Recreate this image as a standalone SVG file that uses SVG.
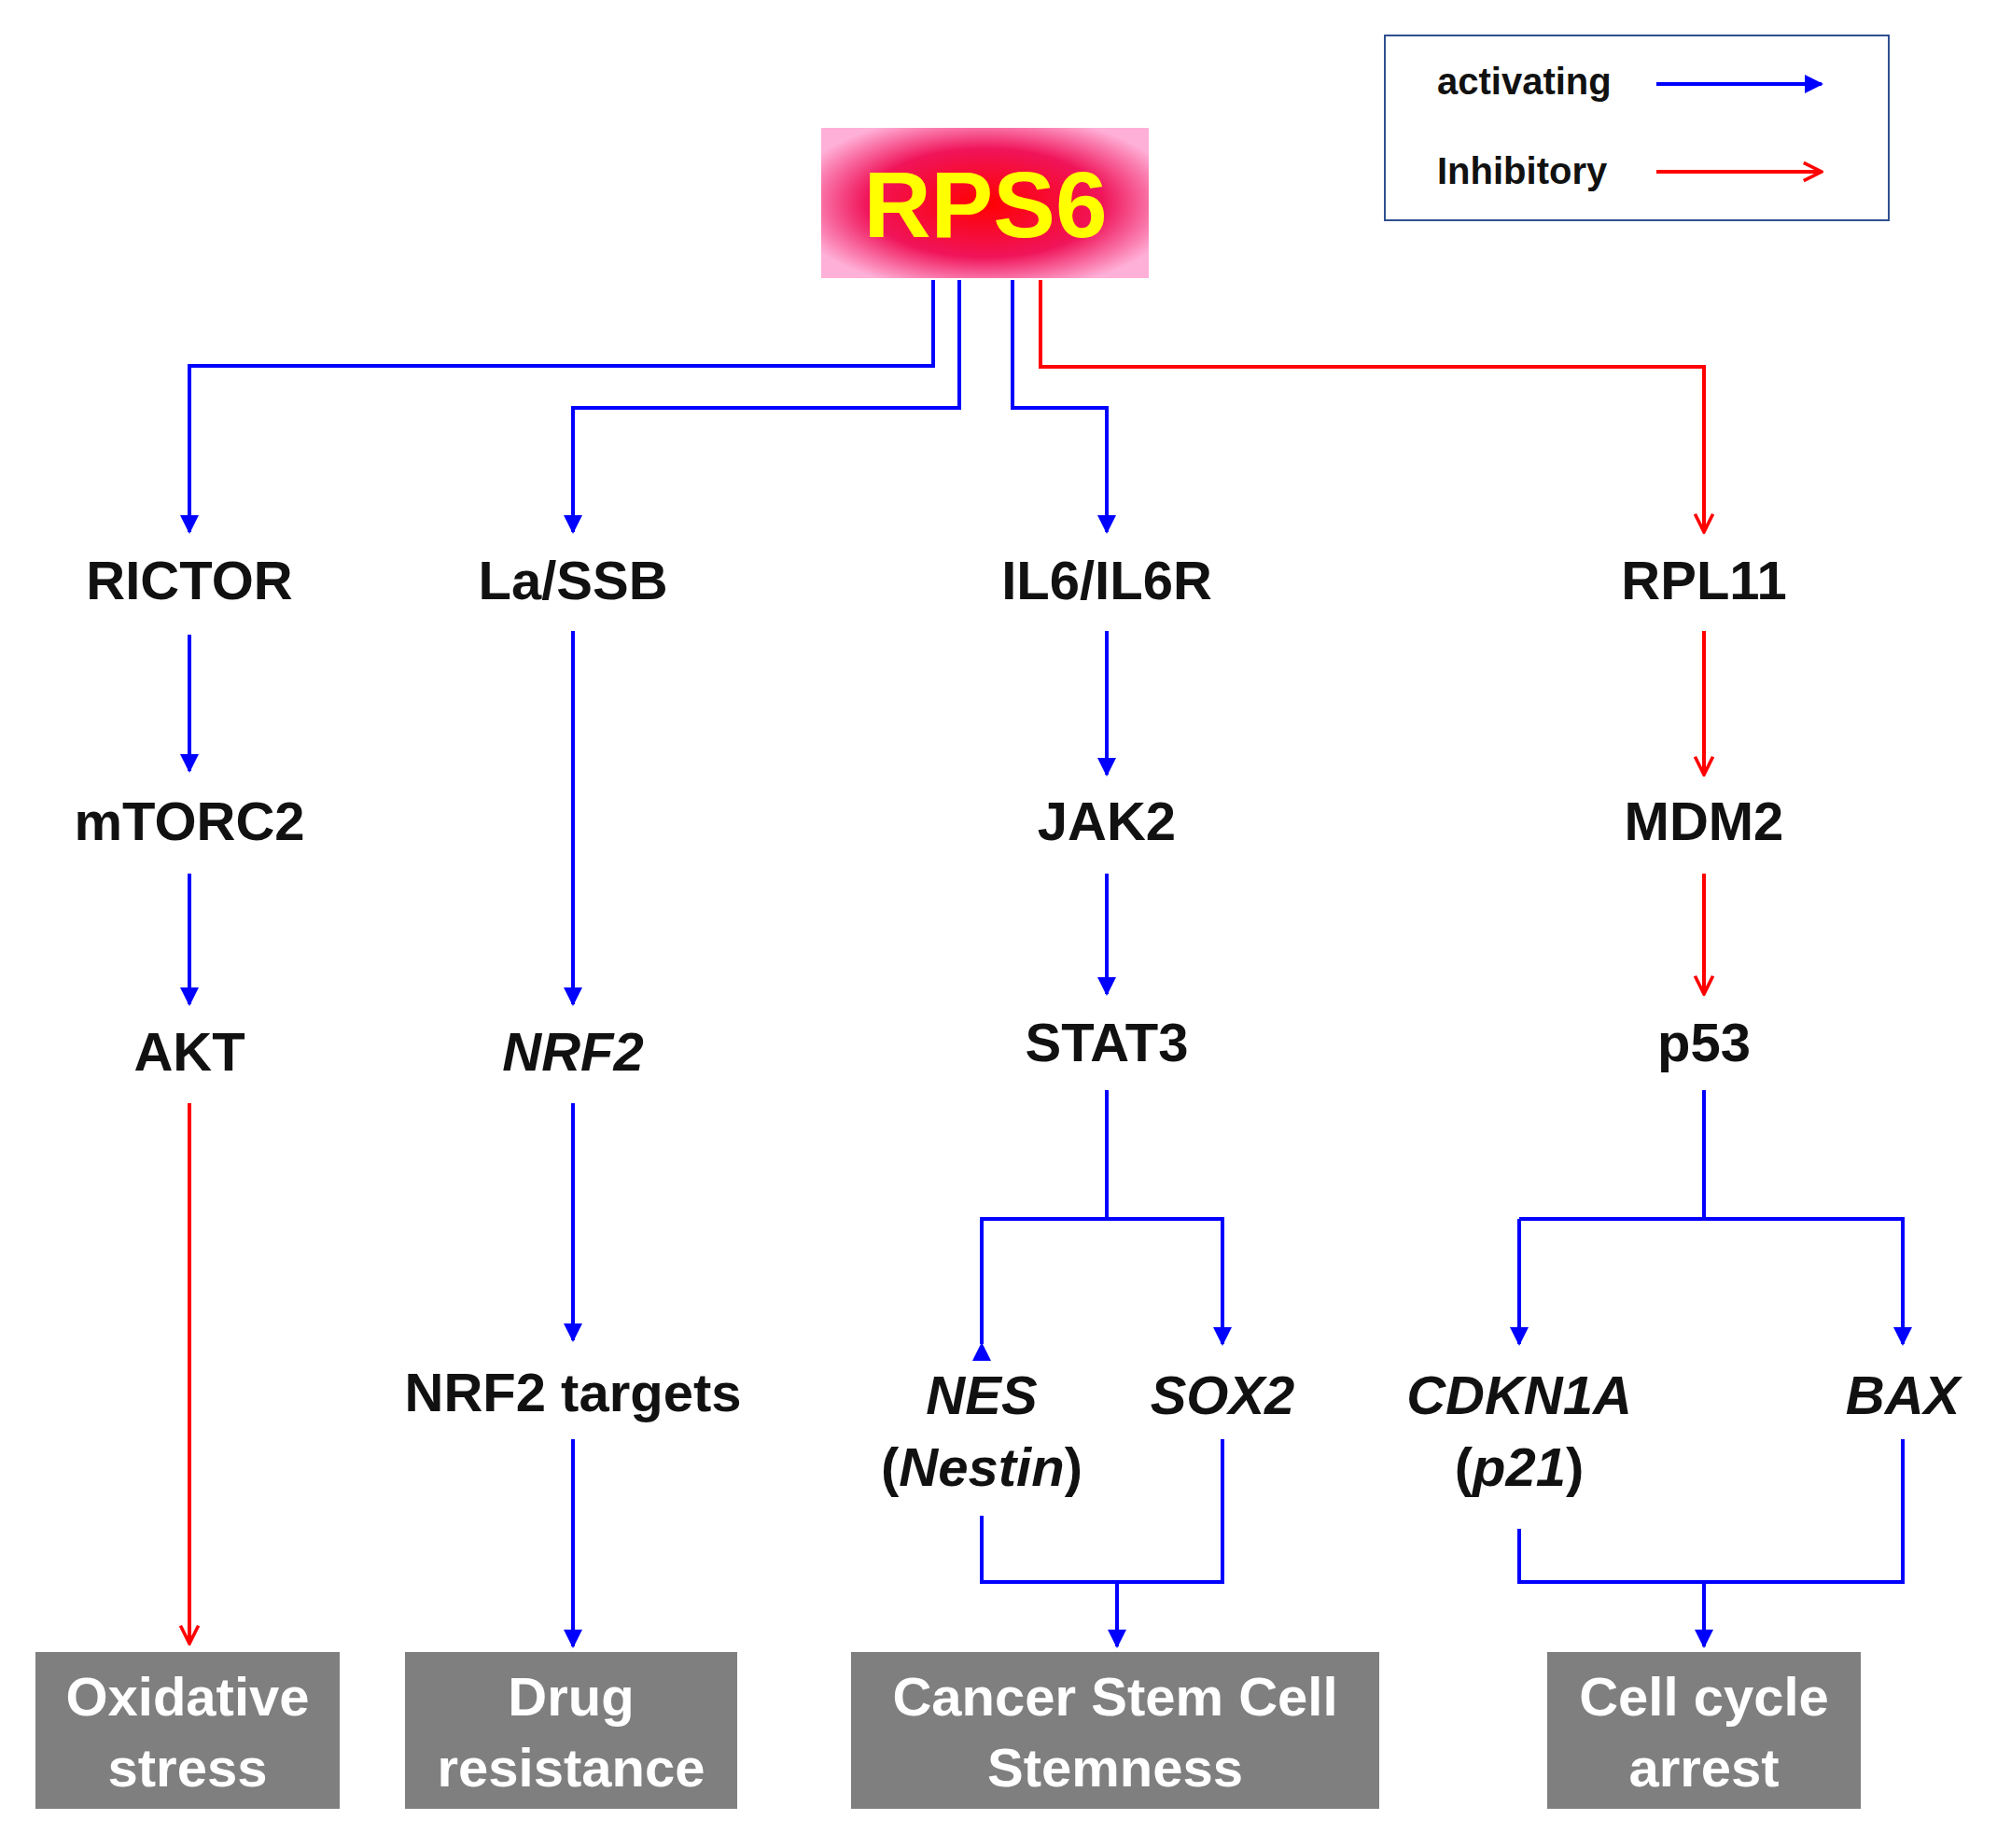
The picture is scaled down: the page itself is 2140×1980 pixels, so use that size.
<svg xmlns="http://www.w3.org/2000/svg" width="2140" height="1980" viewBox="0 0 2140 1980">
<defs>
<radialGradient id="g" cx="50%" cy="50%" r="60%"><stop offset="0" stop-color="#ff0000"/><stop offset="0.6" stop-color="#f0145a"/><stop offset="1" stop-color="#ffb0d8"/></radialGradient>
<marker id="ab" viewBox="0 0 10 10" refX="9" refY="5" markerWidth="5" markerHeight="5" orient="auto"><path d="M0,0L10,5L0,10z" fill="#0000ff"/></marker>
<marker id="ar" viewBox="0 0 10 10" refX="9" refY="5" markerWidth="6" markerHeight="6" orient="auto"><path d="M1,1L9,5L1,9" fill="none" stroke="#ff0000" stroke-width="1.5"/></marker>
</defs>
<style>
.t{font-family:"Liberation Sans",Arial,sans-serif;font-weight:bold;font-size:58px;text-anchor:middle;fill:#111}
.i{font-style:italic}
.w{fill:#fff}
.b{fill:none;stroke:#0000ff;stroke-width:4}
.r{fill:none;stroke:#ff0000;stroke-width:4}
.box{fill:#7f7f7f}
</style>
<rect width="2140" height="1980" fill="#fff"/>
<g id="legend">
<rect x="1484" y="38" width="540" height="198" fill="#fff" stroke="#2f4f8f" stroke-width="2"/>
<text x="1540" y="101" class="t" style="font-size:40px;text-anchor:start">activating</text>
<text x="1540" y="197" class="t" style="font-size:40px;text-anchor:start">Inhibitory</text>
<line x1="1775" y1="90" x2="1952" y2="90" class="b" stroke-width="5" marker-end="url(#ab)"/>
<line x1="1775" y1="184" x2="1952" y2="184" class="r" stroke-width="5" marker-end="url(#ar)"/>
</g>
<g id="RPS6"><rect x="880" y="137" width="351" height="161" fill="url(#g)"/><text x="1056" y="254" class="t" style="font-size:100px;fill:#ffff00">RPS6</text></g>
<g id="nodes">
<text id="RICTOR" x="203" y="642" class="t">RICTOR</text>
<text id="LaSSB" x="614" y="642" class="t">La/SSB</text>
<text id="IL6" x="1186" y="642" class="t">IL6/IL6R</text>
<text id="RPL11" x="1826" y="642" class="t">RPL11</text>
<text id="mTORC2" x="203" y="900" class="t">mTORC2</text>
<text id="JAK2" x="1186" y="900" class="t">JAK2</text>
<text id="MDM2" x="1826" y="900" class="t">MDM2</text>
<text id="AKT" x="203" y="1147" class="t">AKT</text>
<text id="NRF2" x="614" y="1147" class="t i">NRF2</text>
<text id="STAT3" x="1186" y="1137" class="t">STAT3</text>
<text id="p53" x="1826" y="1137" class="t">p53</text>
<text id="NRF2t" x="614" y="1512" class="t">NRF2 targets</text>
<text id="NES" x="1052" y="1515" class="t"><tspan class="i">NES</tspan></text>
<text x="1052" y="1592" class="t">(<tspan class="i">Nestin</tspan>)</text>
<text id="SOX2" x="1310" y="1515" class="t i">SOX2</text>
<text id="CDKN1A" x="1628" y="1515" class="t i">CDKN1A</text>
<text x="1628" y="1592" class="t">(<tspan class="i">p21</tspan>)</text>
<text id="BAX" x="2039" y="1515" class="t i">BAX</text>
</g>
<g id="outcomes">
<rect x="38" y="1770" width="326" height="168" class="box"/><text x="201" y="1838" class="t w">Oxidative</text><text x="201" y="1914" class="t w">stress</text>
<rect x="434" y="1770" width="356" height="168" class="box"/><text x="612" y="1838" class="t w">Drug</text><text x="612" y="1914" class="t w">resistance</text>
<rect x="912" y="1770" width="566" height="168" class="box"/><text x="1195" y="1838" class="t w">Cancer Stem Cell</text><text x="1195" y="1914" class="t w">Stemness</text>
<rect x="1658" y="1770" width="336" height="168" class="box"/><text x="1826" y="1838" class="t w">Cell cycle</text><text x="1826" y="1914" class="t w">arrest</text>
</g>
<g id="connectors">
<path d="M1000,300V392H203V570" class="b" marker-end="url(#ab)"/>
<path d="M1028,300V437H614V570" class="b" marker-end="url(#ab)"/>
<path d="M1085,300V437H1186V570" class="b" marker-end="url(#ab)"/>
<path d="M1115,300V393H1826V570" class="r" marker-end="url(#ar)"/>
<path d="M203,680V826" class="b" marker-end="url(#ab)"/>
<path d="M203,936V1076" class="b" marker-end="url(#ab)"/>
<path d="M203,1182V1761" class="r" marker-end="url(#ar)"/>
<path d="M614,676V1076" class="b" marker-end="url(#ab)"/>
<path d="M614,1182V1436" class="b" marker-end="url(#ab)"/>
<path d="M614,1542V1764" class="b" marker-end="url(#ab)"/>
<path d="M1186,676V830" class="b" marker-end="url(#ab)"/>
<path d="M1186,936V1065" class="b" marker-end="url(#ab)"/>
<path d="M1826,676V830" class="r" marker-end="url(#ar)"/>
<path d="M1826,936V1065" class="r" marker-end="url(#ar)"/>
<path d="M1186,1168V1306" class="b"/>
<path d="M1052,1440V1306H1310V1440" class="b" marker-start="url(#ab)" marker-end="url(#ab)"/>
<path d="M1052,1624V1695H1310V1542" class="b"/>
<path d="M1197,1695V1764" class="b" marker-end="url(#ab)"/>
<path d="M1826,1168V1306" class="b"/>
<path d="M1628,1306V1440" class="b" marker-end="url(#ab)"/>
<path d="M1628,1306H2039V1440" class="b" marker-end="url(#ab)"/>
<path d="M1628,1638V1695H2039V1542" class="b"/>
<path d="M1826,1695V1764" class="b" marker-end="url(#ab)"/>
</g>
</svg>
